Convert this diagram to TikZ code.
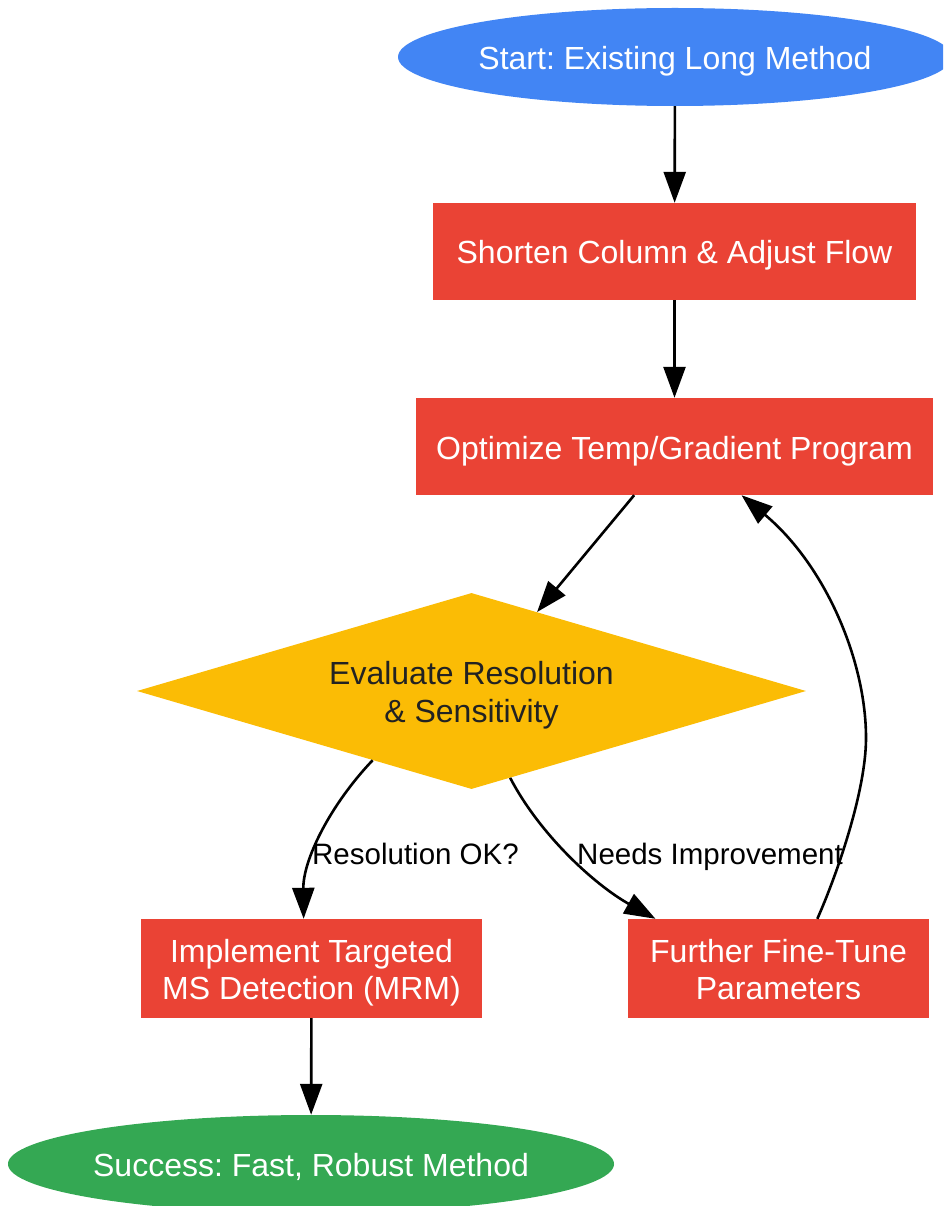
\documentclass[tikz,border=0pt]{standalone}
\usepackage{fontspec}
\setmainfont{Liberation Sans}
\frenchspacing
\usetikzlibrary{shapes.geometric,arrows.meta}
\definecolor{gblue}{HTML}{4285F4}
\definecolor{gred}{HTML}{EA4335}
\definecolor{gyellow}{HTML}{FBBC05}
\definecolor{ggreen}{HTML}{34A853}
\definecolor{dtext}{HTML}{222222}
\newcommand{\nodetxt}[1]{\raisebox{-5pt}[\height][\depth]{\begin{tabular}{@{}c@{}}#1\end{tabular}}}
\begin{document}
\begin{tikzpicture}[x=1pt,y=-1pt,
  nodefont/.style={font=\fontsize{32}{37.5}\selectfont},
  box/.style={rectangle, fill=gred, text=white, inner sep=0pt, nodefont},
  oval/.style={ellipse, text=white, inner ysep=0pt, nodefont, minimum height=98pt},
  decide/.style={diamond, fill=gyellow, text=dtext, inner sep=0pt, aspect=3.4, nodefont, minimum width=669pt, minimum height=196pt},
  edge/.style={line width=2.6pt, -{Triangle[length=31pt,width=22pt]}},
  lbl/.style={font=\fontsize{29.5}{35}\selectfont, text=black, inner sep=0pt, anchor=base}]
\useasboundingbox (0,0) rectangle (943,1206);
\clip (0,0) rectangle (943,1206);
\node[oval, fill=gblue, minimum width=554pt, inner xsep=-1pt] (start) at (675,57) {\nodetxt{Start: Existing Long Method}};
\node[box, minimum width=483pt, minimum height=97pt] (shorten) at (674.5,251.5) {\nodetxt{Shorten Column \& Adjust Flow}};
\node[box, minimum width=517pt, minimum height=97pt] (optimize) at (674.5,446.5) {\nodetxt{Optimize Temp/Gradient Program}};
\node[decide] (eval) at (471.5,691) {\nodetxt{Evaluate Resolution\\\& Sensitivity}};
\node[box, minimum width=341pt, minimum height=99pt] (implement) at (311.5,968.5) {\nodetxt{Implement Targeted\\MS Detection (MRM)}};
\node[box, minimum width=301pt, minimum height=99pt] (further) at (778.5,968.5) {\nodetxt{Further Fine-Tune\\Parameters}};
\node[oval, fill=ggreen, minimum width=606pt, inner xsep=-3.6pt] (success) at (311,1164) {\nodetxt{Success: Fast, Robust Method}};

\draw[edge] (start) -- (shorten);
\draw[edge] (shorten) -- (optimize);
\draw[edge] (optimize) -- (eval);
\draw[edge] (eval.215.5) .. controls (330,805) and (303,860) .. (implement.99.7);
\draw[edge] (eval.294) .. controls (540,835) and (595,885) .. (further.158.9);
\draw[edge] (further.52.1) .. controls (838,872) and (866,790) .. (866,738) .. controls (866,660) and (825,565) .. (optimize.324.9);
\draw[edge] (implement) -- (success);

\node[lbl] (lres) at (415.5,864) {Resolution OK?};
\node[lbl] (lneed) at (710,864) {Needs Improvement};
\end{tikzpicture}
\end{document}
